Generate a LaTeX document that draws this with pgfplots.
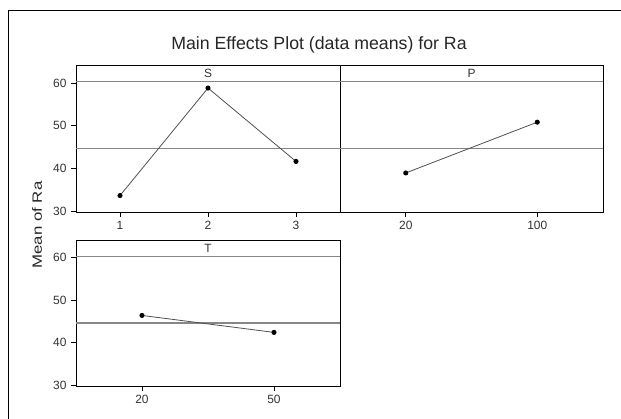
\documentclass[border=0pt]{standalone}
\usepackage{fontspec}
\setmainfont{Liberation Sans}
\usepackage{pgfplots}
\pgfplotsset{compat=1.18}

\definecolor{refgray}{RGB}{135,135,135}
\definecolor{linegray}{RGB}{80,80,80}

\pgfplotsset{
  panel/.style={
    scale only axis,
    anchor=south west,
    ymin=29.75, ymax=64.2,
    xmin=0.5,
    axis line style={black, line width=0.9bp},
    tick style={black, line width=0.7bp},
    tick align=outside,
    major tick length=5bp,
    xtick pos=bottom,
    ytick pos=left,
    ytick={30,40,50,60},
    tick label style={font=\fontsize{12}{14}\selectfont, text=black!80},
    /pgf/number format/assume math mode=true,
    xticklabel style={yshift=-1bp},
    yticklabel style={xshift=-1bp},
  },
  effect/.style={linegray, line width=0.8bp, mark=*, mark size=2.1bp,
    mark options={fill=black, draw=black}},
  grand/.style={refgray, line width=1.4bp, forget plot},
}

\begin{document}
\begin{tikzpicture}
\useasboundingbox (0,0) rectangle (621bp,419bp);
\begin{scope}
  \clip (0,0) rectangle (621bp,419bp);
  \draw[black, line width=1.4bp] (8.5bp,408.5bp) rectangle (640bp,-20bp);
\end{scope}

\node[font=\fontsize{17.8}{20}\selectfont, text=black!85] at (319bp,374bp) {Main Effects Plot (data means) for Ra};
\node[font=\fontsize{13.5}{16}\selectfont, text=black!85, rotate=90] at (37bp,194bp) {\scalebox{1.25}[1]{Mean of Ra}};

% S
\begin{axis}[panel, at={(76bp,207bp)}, width=264bp, height=147bp,
  xmax=3.5, xtick={1,2,3}, xticklabels={1,2,3}]
  \addplot[grand] coordinates {(0.5,44.6) (3.5,44.6)};
  \addplot[effect] coordinates {(1,33.6) (2,58.8) (3,41.6)};
  \draw[refgray, line width=1.4bp] (axis cs:0.5,60.3) -- (axis cs:3.5,60.3);
  \node[font=\fontsize{12}{14}\selectfont, text=black!80] at (axis cs:2,62.3) {S};
\end{axis}

% P
\begin{axis}[panel, at={(340bp,207bp)}, width=263bp, height=147bp,
  xmax=2.5, xtick={1,2}, xticklabels={20,100}, yticklabels={}, ytick style={draw=none}]
  \addplot[grand] coordinates {(0.5,44.6) (2.5,44.6)};
  \addplot[effect] coordinates {(1,38.9) (2,50.8)};
  \draw[refgray, line width=1.4bp] (axis cs:0.5,60.3) -- (axis cs:2.5,60.3);
  \node[font=\fontsize{12}{14}\selectfont, text=black!80] at (axis cs:1.5,62.3) {P};
\end{axis}

% T
\begin{axis}[panel, at={(76bp,33bp)}, width=264bp, height=146bp,
  xmax=2.5, xtick={1,2}, xticklabels={20,50}]
  \addplot[grand] coordinates {(0.5,44.6) (2.5,44.6)};
  \addplot[effect] coordinates {(1,46.4) (2,42.4)};
  \draw[refgray, line width=1.4bp] (axis cs:0.5,60.3) -- (axis cs:2.5,60.3);
  \node[font=\fontsize{12}{14}\selectfont, text=black!80] at (axis cs:1.5,62.3) {T};
\end{axis}
\end{tikzpicture}
\end{document}
